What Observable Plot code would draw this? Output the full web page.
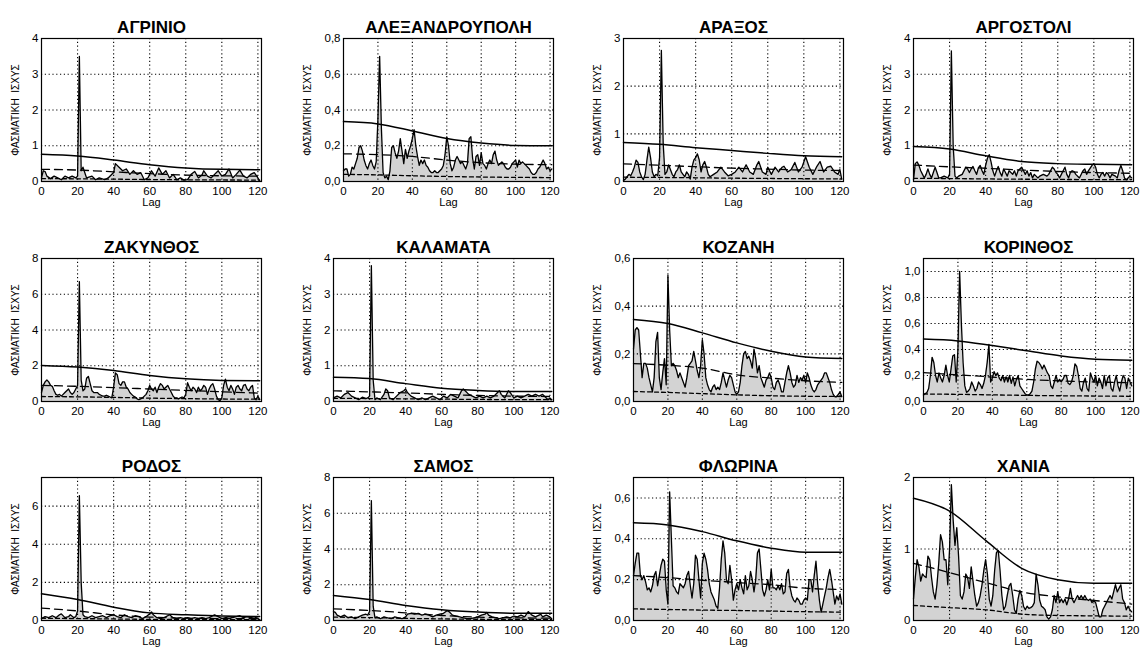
<!DOCTYPE html>
<html><head><meta charset="utf-8">
<script src="https://cdn.jsdelivr.net/npm/d3@7"></script>
<script src="https://cdn.jsdelivr.net/npm/@observablehq/plot@0.6"></script>
<style>
html,body{margin:0;padding:0;background:#fff;overflow:hidden;width:1142px;height:648px;}
#root{position:relative;width:1142px;height:648px;}
.cell{position:absolute;}
</style></head>
<body><div id="root"></div>
<script>
// ---- station names ----
const stations = ["ΑΓΡΙΝΙΟ","ΑΛΕΞΑΝΔΡΟΥΠΟΛΗ","ΑΡΑΞΟΣ","ΑΡΓΟΣΤΟΛΙ","ΖΑΚΥΝΘΟΣ","ΚΑΛΑΜΑΤΑ","ΚΟΖΑΝΗ","ΚΟΡΙΝΘΟΣ","ΡΟΔΟΣ","ΣΑΜΟΣ","ΦΛΩΡΙΝΑ","ΧΑΝΙΑ"];
const xTicks = [0,20,40,60,80,100,120];
const yAxisLabel = "ΦΑΣΜΑΤΙΚΗ  ΙΣΧΥΣ";
const xAxisLabel = "Lag";

// ---- y-axis tick values and domain tops ----
const yTicks = [[0,1,2,3,4],[0,0.2,0.4,0.6,0.8],[0,1,2,3],[0,1,2,3,4],[0,2,4,6,8],[0,1,2,3,4],[0,0.2,0.4,0.6],[0,0.2,0.4,0.6,0.8,1.0],[0,2,4,6],[0,2,4,6,8],[0,0.2,0.4,0.6],[0,1,2]];
const yTop = [4,0.8,3,4,8,4,0.6,1.1,7.5,8,0.7,2];
const yDecimal = [false,true,false,false,false,false,true,true,false,false,true,false];

// ---- reference curves (upper solid, mean dashed, lower dashed) at these lags ----
const refLags = [0,20,40,60,80,100,121];
const upper = [
 [0.76,0.71,0.60,0.47,0.38,0.34,0.33],
 [0.335,0.322,0.283,0.24,0.215,0.202,0.2],
 [0.82,0.78,0.71,0.65,0.59,0.54,0.52],
 [0.98,0.91,0.72,0.56,0.50,0.48,0.47],
 [2.02,1.93,1.74,1.46,1.27,1.18,1.16],
 [0.68,0.64,0.50,0.37,0.31,0.28,0.28],
 [0.344,0.327,0.288,0.246,0.211,0.187,0.18],
 [0.48,0.466,0.43,0.39,0.35,0.325,0.318],
 [1.4,1.1,0.7,0.4,0.3,0.23,0.21],
 [1.4,1.17,0.84,0.6,0.47,0.41,0.41],
 [0.478,0.468,0.435,0.39,0.354,0.334,0.334],
 [1.71,1.53,1.12,0.73,0.57,0.52,0.52]];
const mean = [
 [0.34,0.32,0.27,0.22,0.18,0.16,0.15],
 [0.155,0.15,0.14,0.12,0.105,0.097,0.094],
 [0.37,0.34,0.31,0.28,0.26,0.24,0.23],
 [0.46,0.41,0.37,0.32,0.28,0.25,0.23],
 [0.9,0.85,0.78,0.7,0.62,0.54,0.47],
 [0.3,0.27,0.24,0.2,0.17,0.15,0.14],
 [0.159,0.152,0.14,0.112,0.098,0.087,0.08],
 [0.222,0.205,0.188,0.17,0.158,0.15,0.144],
 [0.65,0.5,0.3,0.18,0.12,0.1,0.09],
 [0.65,0.56,0.43,0.28,0.19,0.15,0.13],
 [0.22,0.21,0.197,0.186,0.175,0.158,0.152],
 [0.8,0.67,0.53,0.4,0.33,0.28,0.23]];
const lower = [
 [0.08,0.075,0.065,0.055,0.048,0.043,0.04],
 [0.04,0.037,0.032,0.028,0.025,0.023,0.022],
 [0.09,0.085,0.078,0.07,0.064,0.058,0.055],
 [0.09,0.082,0.072,0.064,0.058,0.053,0.05],
 [0.28,0.26,0.23,0.19,0.16,0.14,0.13],
 [0.09,0.083,0.075,0.066,0.058,0.052,0.05],
 [0.042,0.038,0.033,0.028,0.024,0.022,0.021],
 [0.058,0.055,0.051,0.047,0.044,0.042,0.04],
 [0.12,0.1,0.08,0.06,0.05,0.045,0.04],
 [0.19,0.16,0.12,0.09,0.07,0.065,0.06],
 [0.057,0.054,0.051,0.049,0.046,0.043,0.041],
 [0.21,0.18,0.15,0.09,0.07,0.065,0.06]];

// ---- spectra [lag, power] ----
const specAgrinio = [[0,0.1],[1,0.3],[2,0.28],[3,0.15],[5,0.08],[7,0.15],[9,0.1],[11,0.05],[13,0.15],[15,0.1],[17,0.15],[19,0.1],[20,0.15],[21,3.5],[22,0.3],[23,0.4],[25,0.1],[28,0.15],[30,0.05],[32,0.1],[35,0.05],[37,0.1],[40,0.25],[41,0.5],[43,0.4],[45,0.3],[47,0.35],[49,0.2],[51,0.3],[53,0.2],[55,0.25],[57,0.05],[59,0.1],[61,0.3],[63,0.15],[65,0.38],[67,0.2],[69,0.3],[71,0.1],[73,0.2],[75,0.05],[77,0.1],[79,0.04],[81,0.05],[83,0.2],[85,0.28],[87,0.1],[89,0.18],[90,0.3],[92,0.15],[94,0.1],[96,0.2],[98,0.3],[100,0.15],[102,0.2],[104,0.35],[106,0.1],[108,0.2],[110,0.32],[112,0.15],[114,0.1],[116,0.2],[118,0.25],[120,0.1],[121,0.02]];
const specAlex = [[0,0.06],[1,0.07],[2,0.07],[3,0.03],[4,0.04],[5,0.08],[6,0.07],[7,0.1],[8,0.13],[9,0.19],[10,0.2],[11,0.17],[12,0.12],[13,0.09],[14,0.07],[15,0.1],[16,0.12],[17,0.09],[18,0.07],[19,0.11],[20,0.35],[21,0.7],[22,0.3],[23,0.05],[24,0.02],[25,0.03],[26,0.01],[27,0.06],[28,0.19],[29,0.2],[30,0.16],[31,0.13],[32,0.17],[33,0.24],[34,0.17],[35,0.1],[36,0.18],[37,0.13],[38,0.17],[39,0.2],[40,0.24],[41,0.29],[42,0.2],[43,0.14],[44,0.09],[45,0.12],[46,0.1],[47,0.12],[48,0.09],[49,0.08],[50,0.06],[51,0.05],[52,0.05],[53,0.06],[54,0.05],[55,0.05],[56,0.06],[57,0.07],[58,0.09],[59,0.15],[60,0.25],[61,0.2],[62,0.1],[63,0.06],[64,0.08],[65,0.12],[66,0.14],[67,0.12],[68,0.1],[69,0.11],[70,0.09],[71,0.07],[72,0.1],[73,0.24],[74,0.25],[75,0.13],[76,0.07],[77,0.14],[78,0.15],[79,0.09],[80,0.16],[81,0.1],[82,0.09],[83,0.07],[84,0.1],[85,0.12],[86,0.1],[87,0.15],[88,0.17],[89,0.12],[90,0.09],[91,0.1],[92,0.11],[93,0.1],[94,0.08],[95,0.07],[96,0.07],[97,0.08],[98,0.1],[99,0.11],[100,0.12],[101,0.08],[102,0.12],[103,0.1],[104,0.11],[105,0.1],[106,0.09],[107,0.08],[108,0.07],[109,0.05],[110,0.04],[111,0.04],[112,0.05],[113,0.07],[114,0.08],[115,0.1],[116,0.12],[117,0.1],[118,0.07],[119,0.08],[120,0.06],[121,0.07]];
const specAraxos = [[0,0.02],[1,0.05],[2,0.1],[3,0.15],[4,0.12],[5,0.2],[6,0.3],[7,0.45],[8,0.4],[9,0.2],[10,0.1],[11,0.04],[12,0.15],[13,0.45],[14,0.72],[15,0.5],[16,0.2],[17,0.1],[18,0.15],[19,0.12],[20,0.5],[21,2.75],[22,0.8],[23,0.15],[24,0.2],[25,0.35],[26,0.25],[27,0.15],[28,0.1],[29,0.2],[30,0.25],[31,0.35],[32,0.2],[33,0.15],[34,0.1],[35,0.2],[36,0.15],[37,0.05],[38,0.3],[39,0.45],[40,0.5],[41,0.58],[42,0.45],[43,0.2],[44,0.35],[45,0.42],[46,0.3],[47,0.15],[48,0.1],[50,0.15],[52,0.2],[54,0.3],[56,0.2],[58,0.12],[60,0.15],[62,0.2],[64,0.3],[65,0.25],[66,0.2],[68,0.35],[70,0.2],[72,0.15],[74,0.35],[75,0.42],[77,0.2],[79,0.15],[80,0.3],[82,0.15],[84,0.3],[86,0.2],[88,0.3],[89,0.32],[91,0.2],[93,0.25],[95,0.4],[97,0.2],[99,0.3],[101,0.52],[103,0.3],[105,0.15],[107,0.3],[109,0.42],[111,0.2],[113,0.3],[115,0.32],[117,0.2],[119,0.15],[120,0.25],[121,0.05]];
const specArgostoli = [[0,0.05],[1,0.5],[2,0.55],[3,0.45],[4,0.3],[5,0.2],[6,0.1],[7,0.2],[8,0.35],[9,0.2],[10,0.1],[11,0.25],[12,0.4],[13,0.25],[14,0.1],[15,0.1],[17,0.15],[19,0.1],[20,0.2],[21,3.65],[22,1.0],[23,0.15],[24,0.1],[25,0.15],[27,0.2],[29,0.4],[30,0.35],[31,0.25],[32,0.35],[33,0.42],[34,0.3],[35,0.2],[36,0.38],[37,0.45],[38,0.3],[39,0.2],[40,0.45],[41,0.65],[42,0.75],[43,0.55],[44,0.3],[45,0.15],[46,0.3],[47,0.42],[48,0.25],[49,0.15],[50,0.35],[51,0.25],[52,0.15],[53,0.3],[54,0.25],[55,0.2],[56,0.3],[57,0.15],[58,0.3],[59,0.35],[60,0.4],[61,0.3],[62,0.2],[63,0.3],[64,0.15],[65,0.25],[66,0.1],[67,0.2],[68,0.15],[69,0.1],[70,0.15],[72,0.2],[74,0.15],[75,0.2],[76,0.3],[77,0.4],[78,0.35],[79,0.25],[80,0.2],[81,0.1],[82,0.2],[83,0.3],[84,0.4],[85,0.2],[86,0.1],[87,0.25],[88,0.3],[89,0.28],[90,0.2],[92,0.1],[94,0.3],[95,0.35],[96,0.2],[97,0.3],[99,0.45],[100,0.5],[101,0.4],[102,0.2],[103,0.1],[104,0.2],[105,0.25],[106,0.15],[107,0.25],[108,0.2],[109,0.1],[110,0.2],[112,0.15],[113,0.1],[114,0.3],[115,0.45],[116,0.3],[117,0.1],[118,0.05],[119,0.1],[120,0.15],[121,0.1]];
const specZakynthos = [[0,0.5],[1,0.9],[2,1.1],[3,1.2],[4,1.1],[5,0.9],[6,0.85],[7,0.6],[8,0.4],[9,0.35],[10,0.4],[11,0.3],[12,0.4],[13,0.5],[14,0.6],[15,0.7],[16,0.5],[17,0.4],[18,0.5],[19,0.7],[20,0.9],[21,6.7],[22,1.2],[23,0.6],[24,0.7],[25,1.3],[26,1.4],[27,1.0],[28,0.6],[29,0.5],[30,0.5],[31,0.5],[32,0.4],[33,0.35],[34,0.3],[35,0.3],[36,0.35],[37,0.3],[38,0.25],[39,0.2],[40,0.8],[41,1.6],[42,1.5],[43,1.0],[44,0.9],[45,1.1],[46,1.1],[47,0.8],[48,0.7],[49,0.5],[50,0.4],[51,0.3],[52,0.25],[53,0.15],[54,0.1],[55,0.15],[56,0.2],[57,0.3],[58,0.4],[59,0.6],[60,0.9],[61,0.7],[62,0.6],[63,0.8],[64,0.5],[65,0.8],[66,1.0],[67,0.9],[68,0.7],[69,0.8],[70,0.9],[71,0.7],[72,0.5],[73,0.3],[74,0.2],[75,0.2],[76,0.15],[77,0.2],[78,0.25],[79,0.2],[80,0.4],[81,1.05],[82,0.8],[83,0.6],[84,0.8],[85,0.7],[86,0.5],[87,0.8],[88,0.6],[89,0.7],[90,0.9],[91,0.8],[92,0.4],[93,0.7],[94,0.9],[95,1.0],[96,0.7],[97,0.3],[98,0.1],[99,0.05],[100,0.2],[101,0.9],[102,1.25],[103,0.8],[104,0.6],[105,0.9],[106,0.7],[107,0.4],[108,0.8],[109,0.9],[110,0.7],[111,0.6],[112,0.9],[113,0.95],[114,0.7],[115,0.6],[116,0.8],[117,0.9],[118,0.2],[119,0.1],[120,0.3],[121,0.1]];
const specKalamata = [[0,0.1],[2,0.15],[4,0.1],[6,0.2],[8,0.25],[10,0.15],[12,0.1],[14,0.05],[16,0.12],[18,0.08],[19,0.1],[20,0.15],[21,3.8],[22,0.6],[23,0.05],[24,0.1],[26,0.05],[28,0.2],[29,0.35],[30,0.3],[31,0.1],[33,0.05],[35,0.15],[37,0.25],[39,0.3],[40,0.35],[41,0.25],[43,0.15],[45,0.1],[47,0.05],[49,0.1],[51,0.05],[53,0.1],[55,0.15],[57,0.1],[59,0.05],[61,0.15],[63,0.1],[65,0.2],[67,0.15],[69,0.1],[70,0.2],[71,0.3],[72,0.35],[73,0.3],[75,0.2],[77,0.15],[79,0.1],[81,0.15],[83,0.1],[85,0.15],[87,0.1],[89,0.15],[91,0.25],[92,0.3],[93,0.2],[95,0.1],[97,0.3],[98,0.25],[100,0.1],[102,0.15],[104,0.1],[106,0.15],[108,0.2],[110,0.15],[112,0.2],[114,0.15],[116,0.2],[118,0.1],[119,0.05],[120,0.1],[121,0.05]];
const specKozani = [[0,0.22],[1,0.3],[2,0.31],[3,0.3],[4,0.2],[5,0.1],[6,0.16],[7,0.16],[8,0.14],[9,0.1],[10,0.07],[11,0.04],[12,0.1],[13,0.25],[14,0.29],[15,0.1],[16,0.05],[17,0.12],[18,0.18],[19,0.07],[20,0.53],[21,0.3],[22,0.15],[23,0.16],[24,0.15],[25,0.13],[26,0.1],[27,0.12],[28,0.1],[29,0.08],[30,0.06],[31,0.1],[32,0.15],[33,0.16],[34,0.17],[35,0.21],[36,0.17],[37,0.13],[38,0.1],[39,0.15],[40,0.26],[41,0.2],[42,0.1],[43,0.07],[44,0.05],[45,0.04],[46,0.06],[47,0.07],[48,0.05],[49,0.06],[50,0.05],[51,0.08],[52,0.12],[53,0.09],[54,0.06],[55,0.09],[56,0.11],[57,0.1],[58,0.07],[59,0.04],[60,0.03],[61,0.04],[62,0.08],[63,0.15],[64,0.2],[65,0.21],[66,0.18],[67,0.19],[68,0.17],[69,0.14],[70,0.22],[71,0.18],[72,0.12],[73,0.15],[74,0.1],[75,0.08],[76,0.06],[77,0.09],[78,0.1],[79,0.12],[80,0.1],[81,0.06],[82,0.05],[83,0.08],[84,0.09],[85,0.07],[86,0.04],[87,0.04],[88,0.08],[89,0.12],[90,0.15],[91,0.12],[92,0.08],[93,0.06],[94,0.07],[95,0.11],[96,0.08],[97,0.1],[98,0.09],[99,0.11],[100,0.08],[101,0.12],[102,0.1],[103,0.07],[104,0.05],[105,0.04],[106,0.05],[107,0.07],[108,0.08],[109,0.09],[110,0.1],[111,0.12],[112,0.12],[113,0.1],[114,0.08],[115,0.05],[116,0.03],[117,0.02],[118,0.02],[119,0.03],[120,0.04],[121,0.02]];
const specKorinthos = [[0,0.05],[1,0.06],[2,0.07],[3,0.1],[4,0.2],[5,0.34],[6,0.3],[7,0.2],[8,0.15],[9,0.22],[10,0.18],[11,0.15],[12,0.2],[13,0.28],[14,0.2],[15,0.15],[16,0.25],[17,0.35],[18,0.36],[19,0.15],[20,0.4],[21,1.0],[22,0.6],[23,0.3],[24,0.12],[25,0.07],[26,0.08],[27,0.1],[28,0.15],[29,0.12],[30,0.08],[31,0.1],[32,0.15],[33,0.13],[34,0.1],[35,0.14],[36,0.2],[37,0.3],[38,0.44],[39,0.15],[40,0.18],[41,0.23],[42,0.2],[43,0.22],[44,0.18],[45,0.16],[46,0.2],[47,0.15],[48,0.19],[49,0.15],[50,0.2],[51,0.14],[52,0.19],[53,0.12],[54,0.17],[55,0.2],[56,0.12],[57,0.1],[58,0.08],[59,0.06],[60,0.05],[61,0.05],[62,0.06],[63,0.08],[64,0.15],[65,0.25],[66,0.31],[67,0.3],[68,0.28],[69,0.25],[70,0.28],[71,0.25],[72,0.22],[73,0.2],[74,0.12],[75,0.1],[76,0.15],[77,0.2],[78,0.15],[79,0.17],[80,0.15],[81,0.17],[82,0.2],[83,0.2],[84,0.14],[85,0.13],[86,0.15],[87,0.2],[88,0.29],[89,0.27],[90,0.2],[91,0.1],[92,0.08],[93,0.15],[94,0.18],[95,0.1],[96,0.08],[97,0.22],[98,0.18],[99,0.15],[100,0.2],[101,0.12],[102,0.18],[103,0.15],[104,0.1],[105,0.2],[106,0.12],[107,0.18],[108,0.2],[109,0.1],[110,0.08],[111,0.15],[112,0.2],[113,0.12],[114,0.08],[115,0.15],[116,0.2],[117,0.18],[118,0.1],[119,0.18],[120,0.15],[121,0.12]];
const specRodos = [[0,0.1],[2,0.2],[4,0.15],[6,0.25],[8,0.15],[10,0.3],[11,0.35],[13,0.15],[15,0.2],[16,0.3],[18,0.15],[19,0.2],[20,0.5],[21,6.55],[22,2.0],[23,0.3],[24,0.2],[26,0.15],[28,0.25],[30,0.15],[32,0.2],[34,0.25],[36,0.15],[38,0.25],[40,0.3],[42,0.2],[44,0.15],[46,0.3],[48,0.2],[50,0.15],[52,0.25],[54,0.2],[56,0.1],[58,0.2],[60,0.35],[61,0.45],[62,0.3],[64,0.15],[66,0.1],[68,0.15],[70,0.25],[71,0.3],[73,0.15],[75,0.1],[77,0.15],[79,0.1],[81,0.15],[83,0.1],[85,0.15],[87,0.1],[89,0.15],[91,0.1],[93,0.15],[95,0.25],[96,0.3],[98,0.2],[100,0.1],[102,0.15],[104,0.2],[106,0.15],[108,0.2],[110,0.25],[112,0.15],[114,0.2],[116,0.15],[118,0.2],[120,0.1],[121,0.05]];
const specSamos = [[0,0.5],[1,0.45],[2,0.3],[4,0.2],[6,0.3],[8,0.15],[10,0.2],[12,0.1],[14,0.2],[16,0.3],[18,0.35],[19,0.3],[20,0.5],[21,6.7],[22,0.8],[23,0.15],[24,0.2],[26,0.1],[28,0.2],[30,0.15],[32,0.1],[34,0.2],[36,0.15],[38,0.1],[40,0.2],[41,0.35],[43,0.4],[45,0.35],[47,0.4],[49,0.3],[51,0.35],[53,0.3],[55,0.2],[57,0.3],[59,0.35],[61,0.4],[63,0.55],[64,0.5],[66,0.3],[68,0.25],[70,0.2],[72,0.15],[74,0.1],[76,0.1],[78,0.15],[80,0.2],[82,0.3],[84,0.35],[85,0.45],[86,0.3],[88,0.2],[90,0.15],[92,0.1],[94,0.15],[96,0.2],[98,0.15],[100,0.25],[102,0.2],[104,0.3],[106,0.2],[107,0.35],[108,0.5],[109,0.4],[110,0.3],[112,0.2],[114,0.3],[115,0.35],[116,0.2],[118,0.3],[120,0.2],[121,0.1]];
const specFlorina = [[0,0.22],[1,0.28],[2,0.33],[3,0.33],[4,0.22],[5,0.2],[6,0.22],[7,0.19],[8,0.15],[9,0.16],[10,0.14],[11,0.17],[12,0.22],[13,0.24],[14,0.17],[15,0.22],[16,0.27],[17,0.3],[18,0.29],[19,0.15],[20,0.08],[21,0.63],[22,0.4],[23,0.17],[24,0.16],[25,0.14],[26,0.13],[27,0.18],[28,0.17],[29,0.16],[30,0.18],[31,0.22],[32,0.24],[33,0.17],[34,0.11],[35,0.18],[36,0.32],[37,0.3],[38,0.2],[39,0.11],[40,0.28],[41,0.33],[42,0.3],[43,0.25],[44,0.18],[45,0.14],[46,0.12],[47,0.1],[48,0.07],[49,0.06],[50,0.16],[51,0.3],[52,0.39],[53,0.33],[54,0.2],[55,0.18],[56,0.27],[57,0.2],[58,0.1],[59,0.15],[60,0.18],[61,0.15],[62,0.2],[63,0.16],[64,0.13],[65,0.22],[66,0.15],[67,0.17],[68,0.24],[69,0.2],[70,0.14],[71,0.2],[72,0.33],[73,0.35],[74,0.25],[75,0.15],[76,0.12],[77,0.15],[78,0.2],[79,0.15],[80,0.25],[81,0.16],[82,0.16],[83,0.15],[84,0.17],[85,0.15],[86,0.18],[87,0.13],[88,0.14],[89,0.23],[90,0.25],[91,0.16],[92,0.12],[93,0.1],[94,0.09],[95,0.11],[96,0.1],[97,0.08],[98,0.08],[99,0.1],[100,0.11],[101,0.1],[102,0.2],[103,0.2],[104,0.14],[105,0.22],[106,0.29],[107,0.18],[108,0.1],[109,0.04],[110,0.08],[111,0.12],[112,0.16],[113,0.21],[114,0.25],[115,0.2],[116,0.14],[117,0.08],[118,0.12],[119,0.1],[120,0.13],[121,0.08]];
const specChania = [[0,0.3],[1,0.6],[2,0.85],[3,0.75],[4,0.55],[5,0.65],[6,0.62],[7,0.6],[8,0.9],[9,0.85],[10,0.6],[11,0.4],[12,0.3],[13,0.5],[14,0.8],[15,1.2],[16,1.1],[17,0.85],[18,0.85],[19,0.5],[20,1.0],[21,1.9],[22,1.4],[23,1.05],[24,1.3],[25,0.9],[26,0.35],[27,0.3],[28,0.4],[29,0.65],[30,0.6],[31,0.45],[32,0.75],[33,0.55],[34,0.35],[35,0.2],[36,0.25],[37,0.35],[38,0.5],[39,0.7],[40,0.85],[41,0.65],[42,0.3],[43,0.2],[44,0.35],[45,0.7],[46,0.95],[47,0.98],[48,0.7],[49,0.35],[50,0.15],[51,0.2],[52,0.35],[53,0.48],[54,0.52],[55,0.35],[56,0.15],[57,0.1],[58,0.3],[59,0.42],[60,0.35],[61,0.2],[62,0.15],[63,0.2],[64,0.17],[65,0.18],[66,0.2],[67,0.25],[68,0.65],[69,0.5],[70,0.28],[71,0.2],[72,0.18],[73,0.15],[74,0.05],[75,0.02],[76,0.05],[77,0.15],[78,0.35],[79,0.25],[80,0.4],[81,0.25],[82,0.3],[83,0.25],[84,0.3],[85,0.22],[86,0.3],[87,0.45],[88,0.3],[89,0.25],[90,0.3],[91,0.35],[92,0.3],[93,0.35],[94,0.3],[95,0.35],[96,0.3],[97,0.28],[98,0.3],[99,0.25],[100,0.28],[101,0.25],[102,0.15],[103,0.05],[104,0.05],[105,0.15],[106,0.2],[107,0.25],[108,0.3],[109,0.35],[110,0.3],[111,0.4],[112,0.5],[113,0.4],[114,0.45],[115,0.5],[116,0.3],[117,0.25],[118,0.15],[119,0.2],[120,0.15],[121,0.12]];
const spectra = [specAgrinio,specAlex,specAraxos,specArgostoli,specZakynthos,specKalamata,specKozani,specKorinthos,specRodos,specSamos,specFlorina,specChania];

// ---- layout ----
const colLeft = [0,292,582,872];
const rowTop = [0,220,439];
const font = "'Liberation Sans', Arial, Helvetica, sans-serif";
const root = document.getElementById("root");

stations.forEach((name, i) => {
  const col = i % 4, row = Math.floor(i / 4);
  const ml = yDecimal[i] ? 51 : 41;
  const fmt = yDecimal[i] ? (d => d3.format(".1f")(d).replace(".", ",")) : d3.format("d");
  const ref = (arr) => refLags.map((l, k) => ({lag: l, v: arr[i][k]}));
  const spec = spectra[i].map(([lag, v]) => ({lag, v}));
  const gridY = yTicks[i].filter(t => t > 0);
  const chart = Plot.plot({
    width: 270, height: 213,
    marginTop: 38, marginBottom: 32, marginLeft: ml, marginRight: 9,
    style: {fontFamily: font, fontSize: "11px", background: "white", color: "black", overflow: "visible"},
    x: {domain: [0, 122]},
    y: {domain: [0, yTop[i]]},
    marks: [
      Plot.areaY(spec, {x: "lag", y: "v", fill: "#d3d3d3"}),
      Plot.gridX({ticks: [20,40,60,80,100,120], stroke: "black", strokeOpacity: 1, strokeDasharray: "1.2,2.6", strokeWidth: 1.1}),
      Plot.gridY({ticks: gridY, stroke: "black", strokeOpacity: 1, strokeDasharray: "1.2,2.6", strokeWidth: 1.1}),
      Plot.line(ref(lower), {x: "lag", y: "v", curve: "monotone-x", stroke: "black", strokeWidth: 1.3, strokeDasharray: "4,3"}),
      Plot.line(ref(mean), {x: "lag", y: "v", curve: "monotone-x", stroke: "black", strokeWidth: 1.3, strokeDasharray: "8,5"}),
      Plot.line(ref(upper), {x: "lag", y: "v", curve: "monotone-x", stroke: "black", strokeWidth: 1.5}),
      Plot.lineY(spec, {x: "lag", y: "v", stroke: "black", strokeWidth: 1.3}),
      Plot.axisX({ticks: xTicks, tickSize: 0, tickPadding: 5, label: null, fontSize: 11.5}),
      Plot.axisY({ticks: yTicks[i], tickFormat: fmt, tickSize: 0, tickPadding: 3, label: null, fontSize: 11.5}),
      Plot.frame({stroke: "black", strokeWidth: 1.2}),
      Plot.text([name], {frameAnchor: "top", dy: -18, fontSize: 17, fontWeight: "bold", fontFamily: font, style: "letter-spacing:0.6px"}),
      Plot.text([xAxisLabel], {frameAnchor: "bottom", dy: 24, fontSize: 11, fontFamily: font}),
      Plot.text([yAxisLabel], {frameAnchor: "left", textAnchor: "middle", dx: -(ml - 15), rotate: -90, fontSize: 10, fontFamily: font})
    ]
  });
  const div = document.createElement("div");
  div.className = "cell";
  div.style.left = colLeft[col] + "px";
  div.style.top = rowTop[row] + "px";
  div.appendChild(chart);
  root.appendChild(div);
});
</script>
</body></html>
